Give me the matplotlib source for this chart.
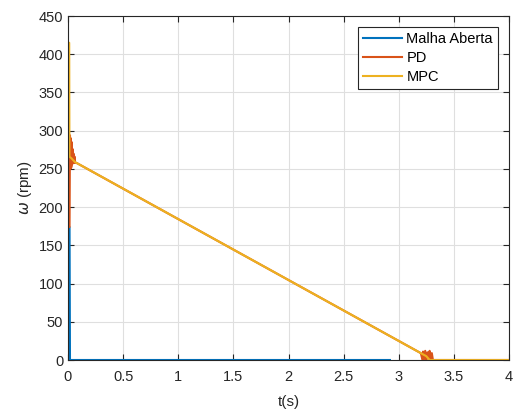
import matplotlib
matplotlib.use("Agg")
from matplotlib import pyplot as plt

# Malha Aberta (open loop)
t_ma = [0.0, 0.014, 0.018, 2.92]
w_ma = [174, 174, 0, 0]

# PD
t_pd = [0.0, 0.014, 0.018, 0.022, 0.026, 0.03, 0.034, 0.038, 0.042, 0.046,
        0.05, 0.055, 0.06, 0.065, 0.08, 3.2, 3.215, 3.22, 3.23, 3.24, 3.25,
        3.26, 3.27, 3.28, 3.29, 3.3, 3.31, 4.0]
w_pd = [174, 174, 294, 250, 290, 252, 285, 256, 276, 258, 270, 258, 266,
        258, 257.6, 9.0, 0, 11, 1, 12, 0, 10, 2, 12, 0, 9, 0, 0]

# MPC
t_mpc = [0.0, 0.011, 0.013, 0.03, 0.063, 3.25, 3.28, 4.0]
w_mpc = [415, 415, 266, 264, 259, 5, 0, 0]

plt.rcParams['font.family'] = ['Liberation Sans', 'DejaVu Sans']
fig = plt.figure(figsize=(5.14, 4.12), dpi=100)
ax = fig.add_axes([68 / 514, 52 / 412, 441 / 514, 344 / 412])

ax.plot(t_ma, w_ma, color='#0072BD', linewidth=1.5, label='Malha Aberta')
ax.plot(t_pd, w_pd, color='#D95319', linewidth=1.5, label='PD')
ax.plot(t_mpc, w_mpc, color='#EDB120', linewidth=1.5, label='MPC')

ax.set_xlim(0, 4)
ax.set_ylim(0, 450)
ax.set_xticks([0, 0.5, 1, 1.5, 2, 2.5, 3, 3.5, 4])
ax.set_xticklabels(['0', '0.5', '1', '1.5', '2', '2.5', '3', '3.5', '4'])
ax.set_yticks(range(0, 451, 50))
ax.set_xlabel('t(s)', fontsize=11, color='#262626', labelpad=8)
ax.set_ylabel(r'$\omega$ (rpm)', fontsize=11, color='#262626', labelpad=3)
ax.grid(True, color='#dfdfdf', linewidth=0.8)
ax.set_axisbelow(True)
ax.tick_params(direction='in', top=True, right=True, labelsize=10.5,
               colors='#262626', length=4)
ax.tick_params(axis='x', pad=7)
for s in ax.spines.values():
    s.set_color('#262626')
    s.set_linewidth(0.8)

leg = ax.legend(loc='upper right', fontsize=10.5, fancybox=False,
                framealpha=1, edgecolor='#262626', borderpad=0.35,
                handlelength=2.7, handletextpad=0.3, labelspacing=0.35,
                borderaxespad=0.75)
leg.get_frame().set_linewidth(0.8)

fig.savefig('out.png', dpi=100)
